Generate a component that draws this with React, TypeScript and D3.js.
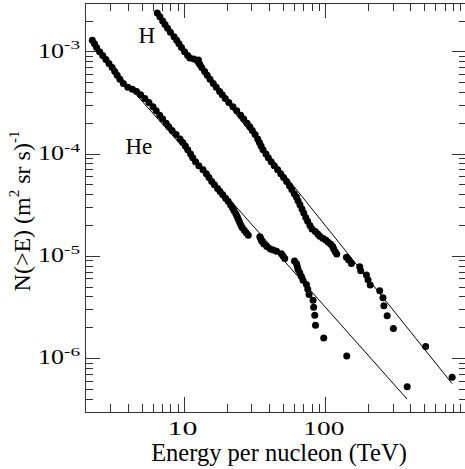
import React from 'react';
import * as d3 from 'd3';

// integral spectra, N(>E) in (m^2 sr s)^-1 vs energy per nucleon in TeV
const hEnergy = [
  6.40, 6.68, 6.99, 7.26, 7.57, 7.93, 8.41, 8.78, 9.12, 9.50, 9.99, 10.51, 10.89, 11.62,
  12.51, 12.61, 12.82, 13.22, 13.87, 14.46, 15.14, 15.95, 16.75, 17.70, 18.49, 19.40,
  20.56, 21.98, 23.38, 24.96, 26.21, 27.70, 28.95, 30.15, 31.56, 32.93, 33.85, 34.80,
  35.90, 37.70, 39.14, 41.03, 43.15, 45.61, 47.97, 50.22, 52.74, 55.3, 57.4, 59.8, 61.96,
  63.6, 65.6, 67.8, 69.8, 72.1, 74.4, 77.2, 79.9, 84.2, 87.7, 90.6, 95.1, 99.9, 104.0,
  108.4, 111.9, 113.8, 116.6, 119.5, 140, 145.3, 151.8, 173.9, 176.7, 193.9, 199, 206.3,
  240.8, 254, 257.8, 272, 301, 509.6, 785,
];
const hFlux = [
  2.4e-3, 2.2e-3, 2.0e-3, 1.85e-3, 1.7e-3, 1.55e-3, 1.4e-3, 1.3e-3, 1.2e-3, 1.1e-3, 1.0e-3,
  9.2e-4, 8.7e-4, 8.5e-4, 8.3e-4, 7.9e-4, 7.5e-4, 7.0e-4, 6.4e-4, 5.9e-4, 5.4e-4, 4.9e-4,
  4.5e-4, 4.1e-4, 3.8e-4, 3.5e-4, 3.2e-4, 2.9e-4, 2.65e-4, 2.4e-4, 2.2e-4, 2.0e-4, 1.85e-4,
  1.7e-4, 1.55e-4, 1.4e-4, 1.3e-4, 1.2e-4, 1.1e-4, 1.0e-4, 9.2e-5, 8.4e-5, 7.7e-5, 7.0e-5,
  6.4e-5, 5.9e-5, 5.4e-5, 4.9e-5, 4.5e-5, 4.1e-5, 3.8e-5, 3.5e-5, 3.2e-5, 2.9e-5, 2.65e-5,
  2.4e-5, 2.2e-5, 2.0e-5, 1.85e-5, 1.75e-5, 1.65e-5, 1.57e-5, 1.5e-5, 1.44e-5, 1.375e-5,
  1.31e-5, 1.245e-5, 1.18e-5, 1.11e-5, 1.05e-5, 9.8e-6, 9.2e-6, 8.5e-6, 7.9e-6, 7.2e-6,
  6.55e-6, 5.9e-6, 5.24e-6, 4.59e-6, 3.93e-6, 3.28e-6, 2.62e-6, 1.97e-6, 1.31e-6, 6.55e-7,
];

const heEnergy = [
  2.22, 2.30, 2.38, 2.50, 2.63, 2.77, 2.91, 3.07, 3.20, 3.33, 3.48, 3.68, 3.96, 4.27, 4.57,
  4.88, 5.23, 5.59, 5.97, 6.29, 6.66, 6.99, 7.40, 7.73, 8.15, 8.70, 9.28, 9.70, 10.12,
  10.52, 11.02, 11.42, 11.95, 12.61, 13.50, 14.25, 14.87, 15.56, 16.26, 17.11, 17.82,
  18.62, 19.52, 20.33, 21.14, 21.74, 22.34, 23.05, 23.54, 24.0, 24.52, 25.08, 25.63,
  26.47, 27.35, 28.25, 34.1, 34.6, 35.2, 36.4, 38.2, 40.4, 42.5, 44.8, 48.5, 49.8, 51.2,
  60.0, 62.0, 62.8, 63.6, 65.4, 67.2, 69.0, 72.9, 74.5, 76.1, 81.2, 82.0, 83.5, 84.5,
  96.7, 140.7, 377,
];
const heFlux = [
  1.3e-3, 1.2e-3, 1.1e-3, 1.0e-3, 9.2e-4, 8.4e-4, 7.7e-4, 7.0e-4, 6.4e-4, 5.9e-4, 5.4e-4,
  4.9e-4, 4.5e-4, 4.3e-4, 4.1e-4, 3.8e-4, 3.5e-4, 3.2e-4, 2.9e-4, 2.65e-4, 2.4e-4, 2.2e-4,
  2.0e-4, 1.85e-4, 1.7e-4, 1.55e-4, 1.4e-4, 1.3e-4, 1.2e-4, 1.1e-4, 1.0e-4, 9.2e-5, 8.4e-5,
  7.7e-5, 7.0e-5, 6.4e-5, 5.9e-5, 5.4e-5, 5.0e-5, 4.6e-5, 4.3e-5, 4.0e-5, 3.7e-5, 3.45e-5,
  3.2e-5, 3.0e-5, 2.8e-5, 2.6e-5, 2.45e-5, 2.3e-5, 2.15e-5, 2.0e-5, 1.9e-5, 1.8e-5, 1.7e-5,
  1.61e-5, 1.55e-5, 1.49e-5, 1.40e-5, 1.32e-5, 1.25e-5, 1.18e-5, 1.15e-5, 1.12e-5, 1.06e-5,
  1.007e-5, 9.54e-6, 9.01e-6, 8.48e-6, 7.95e-6, 7.42e-6, 6.89e-6, 6.36e-6, 5.83e-6, 5.3e-6,
  4.77e-6, 4.24e-6, 3.71e-6, 3.18e-6, 2.65e-6, 2.12e-6, 1.59e-6, 1.06e-6, 5.3e-7,
];

// power-law fits, end points
const hFitEnergy = [6.36, 783];
const hFitFlux = [2.26e-3, 5.7e-7];
const heFitEnergy = [2.2, 376];
const heFitFlux = [1.175e-3, 4.02e-7];

const xTickLabels = [10, 100];
const yTickLabels = [1e-3, 1e-4, 1e-5, 1e-6];

const W = 465;
const H = 469;
const FONT = '"Liberation Serif", "Times New Roman", Times, serif';

const isMajor = (v: number) => Math.abs(Math.log10(v) - Math.round(Math.log10(v))) < 1e-9;

export default function App() {
  const x = d3.scaleLog().domain([1.97, 1000]).range([85, 467]);
  const y = d3.scaleLog().domain([3e-7, 3e-3]).range([412, 3]);
  const [x0, x1] = x.range();
  const [y0, y1] = y.range();

  const line = d3.line<[number, number]>()
    .x((d) => x(d[0]))
    .y((d) => y(d[1]));

  const hPts = hEnergy.map((e, i) => [e, hFlux[i]] as [number, number]);
  const hePts = heEnergy.map((e, i) => [e, heFlux[i]] as [number, number]);
  const hFit = hFitEnergy.map((e, i) => [e, hFitFlux[i]] as [number, number]);
  const heFit = heFitEnergy.map((e, i) => [e, heFitFlux[i]] as [number, number]);

  const xt = x.ticks().filter((v) => v >= 1.97 && v <= 1000);
  const yt = y.ticks().filter((v) => v >= 3e-7 && v <= 3e-3);

  const axisColor = '#333';

  return (
    <svg width={W} height={H} style={{ position: 'absolute', left: 0, top: 0, background: '#fff' }}
      fontFamily={FONT}>
      <rect x={0} y={0} width={W} height={H} fill="#fff" />

      {/* frame */}
      <g stroke={axisColor} strokeWidth={1} fill="none" shapeRendering="crispEdges">
        <rect x={x0} y={y1} width={x1 - x0} height={y0 - y1} />
        {xt.map((v) => {
          const len = isMajor(v) ? 15 : 8;
          return (
            <g key={'xt' + v}>
              <line x1={x(v)} x2={x(v)} y1={y0} y2={y0 - len} />
              <line x1={x(v)} x2={x(v)} y1={y1} y2={y1 + len} />
            </g>
          );
        })}
        {yt.map((v) => {
          const len = isMajor(v) ? 15 : 8;
          return (
            <g key={'yt' + v}>
              <line x1={x0} x2={x0 + len} y1={y(v)} y2={y(v)} />
              <line x1={x1} x2={x1 - len} y1={y(v)} y2={y(v)} />
            </g>
          );
        })}
      </g>

      {/* tick labels */}
      {xTickLabels.map((v) => {
        const s = String(v);
        return (
          <text key={'xl' + v} x={x(v) - 2} y={434.5} fontSize={19.5} textAnchor="middle"
            textLength={s.length === 2 ? 30 : 41} lengthAdjust="spacingAndGlyphs">
            {s}
          </text>
        );
      })}
      {yTickLabels.map((v) => {
        const exp = Math.round(Math.log10(v));
        return (
          <g key={'yl' + v}>
            <text x={64} y={y(v) + 5.8} fontSize={22} textAnchor="end" textLength={26}
              lengthAdjust="spacingAndGlyphs">
              10
            </text>
            <text x={64} y={y(v) - 2.4} fontSize={13} textLength={16}
              lengthAdjust="spacingAndGlyphs">
              {String(exp)}
            </text>
          </g>
        );
      })}

      {/* axis titles */}
      <text x={279} y={460.5} fontSize={24.5} textAnchor="middle">
        Energy per nucleon (TeV)
      </text>
      <text transform="translate(30,211) rotate(-90)" fontSize={24} textAnchor="middle">
        {'N(>E) (m'}
        <tspan dy={-11} fontSize={15}>2</tspan>
        <tspan dy={11}>{' sr s)'}</tspan>
        <tspan dy={-11} fontSize={15}>-1</tspan>
      </text>

      {/* fit lines */}
      <path d={line(hFit) || ''} stroke="#000" strokeWidth={1} fill="none" />
      <path d={line(heFit) || ''} stroke="#000" strokeWidth={1} fill="none" />

      {/* data */}
      <g fill="#000">
        {hPts.map((d, i) => (
          <circle key={'h' + i} cx={x(d[0])} cy={y(d[1])} r={3.5} />
        ))}
        {hePts.map((d, i) => (
          <circle key={'he' + i} cx={x(d[0])} cy={y(d[1])} r={3.5} />
        ))}
      </g>

      {/* series labels */}
      <text x={138.5} y={43.3} fontSize={23}>H</text>
      <text x={125.5} y={154} fontSize={23}>He</text>
    </svg>
  );
}
